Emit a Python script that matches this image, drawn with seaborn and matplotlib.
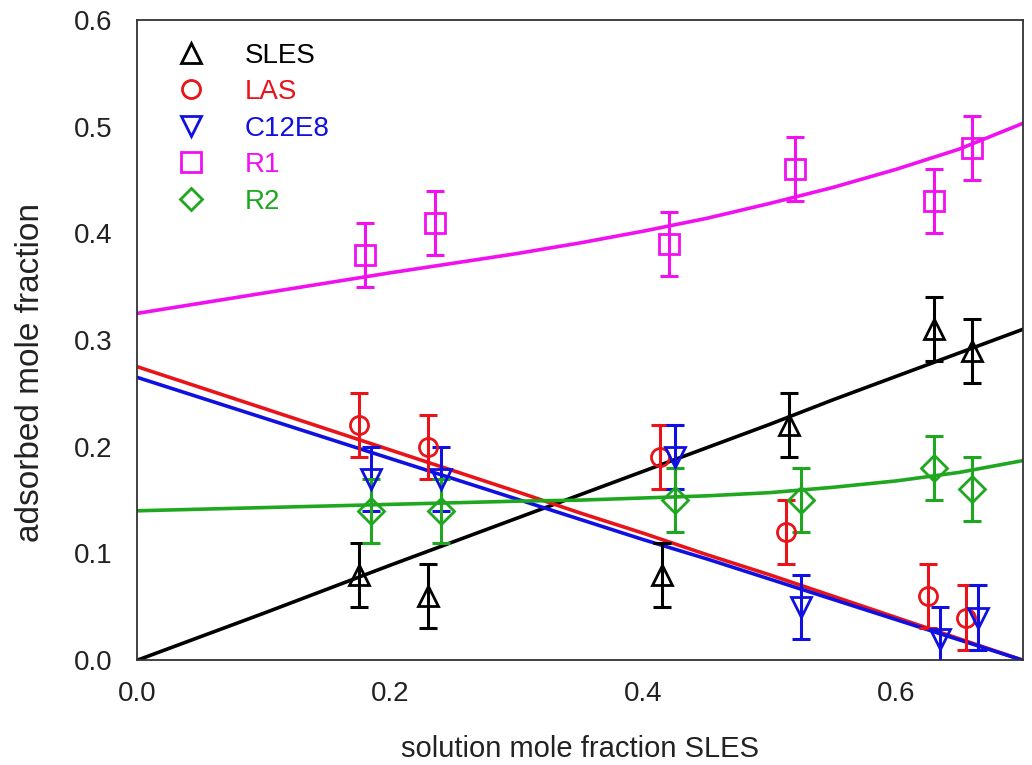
import numpy as np
import pandas as pd
import matplotlib
matplotlib.use("Agg")
import matplotlib.pyplot as plt
import seaborn as sns
from matplotlib.lines import Line2D

# ---------------- data ----------------
series_names = ["SLES", "LAS", "C12E8", "R1", "R2"]
series_colors = ["#000000", "#e8141a", "#1010e0", "#f010f0", "#1fa81f"]
series_markers = ["^", "o", "v", "s", "D"]

sles_x = [0.175, 0.230, 0.415, 0.515, 0.630, 0.660]
sles_y = [0.08, 0.06, 0.08, 0.22, 0.31, 0.29]
las_x = [0.175, 0.230, 0.413, 0.513, 0.625, 0.655]
las_y = [0.22, 0.20, 0.19, 0.12, 0.06, 0.04]
c12_x = [0.185, 0.240, 0.425, 0.525, 0.635, 0.665]
c12_y = [0.17, 0.17, 0.19, 0.05, 0.02, 0.04]
r1_x = [0.180, 0.235, 0.420, 0.520, 0.630, 0.660]
r1_y = [0.38, 0.41, 0.39, 0.46, 0.43, 0.48]
r2_x = [0.185, 0.240, 0.425, 0.525, 0.630, 0.660]
r2_y = [0.14, 0.14, 0.15, 0.15, 0.18, 0.16]
err = 0.03

# fitted model curves, read at sample points
fit_x = [0.0, 0.1, 0.2, 0.3, 0.35, 0.4, 0.45, 0.5, 0.55, 0.6, 0.65, 0.7]
fit_sles = [0.0, 0.044, 0.089, 0.133, 0.155, 0.177, 0.199, 0.221, 0.244, 0.266, 0.288, 0.310]
fit_las = [0.275, 0.236, 0.197, 0.158, 0.138, 0.119, 0.099, 0.080, 0.060, 0.040, 0.020, 0.0]
fit_c12 = [0.265, 0.227, 0.189, 0.151, 0.132, 0.113, 0.095, 0.076, 0.057, 0.038, 0.019, 0.0]
fit_r1 = [0.325, 0.344, 0.363, 0.381, 0.391, 0.402, 0.414, 0.428, 0.443, 0.460, 0.479, 0.503]
fit_r2 = [0.140, 0.143, 0.146, 0.149, 0.150, 0.152, 0.154, 0.157, 0.162, 0.168, 0.176, 0.187]

xs_all = [sles_x, las_x, c12_x, r1_x, r2_x]
ys_all = [sles_y, las_y, c12_y, r1_y, r2_y]
fits_all = [fit_sles, fit_las, fit_c12, fit_r1, fit_r2]

# ---------------- plot ----------------
sns.set_theme(style="white")
plt.rcParams["font.family"] = ["Liberation Sans", "DejaVu Sans"]

fig = plt.figure(figsize=(10.32, 7.65), dpi=100)
ax = fig.add_axes([0.133, 0.137, 0.858, 0.837])

fit_df = pd.concat([
    pd.DataFrame({"x": fit_x, "y": f, "series": n})
    for n, f in zip(series_names, fits_all)
])
palette = dict(zip(series_names, series_colors))

sns.lineplot(data=fit_df, x="x", y="y", hue="series", palette=palette,
             lw=2.6, legend=False, ax=ax, sort=True, zorder=2)

marker_size = {"^": 14, "v": 14, "o": 13, "s": 14, "D": 13}
for n, c, m, xx, yy in zip(series_names, series_colors, series_markers, xs_all, ys_all):
    ax.errorbar(xx, yy, yerr=err, fmt="none", ecolor=c, elinewidth=2.2,
                capsize=6.5, capthick=2.2, zorder=3)
    ax.plot(xx, yy, ls="none", marker=m, ms=marker_size[m], mfc="none", mec=c,
            mew=2, zorder=4)

ax.set_xlim(0, 0.7)
ax.set_ylim(0, 0.6)
ax.set_xticks([0.0, 0.2, 0.4, 0.6])
ax.set_xticklabels(["0.0", "0.2", "0.4", "0.6"])
ax.set_yticks([0.0, 0.1, 0.2, 0.3, 0.4, 0.5, 0.6])
ax.set_yticklabels(["0.0", "0.1", "0.2", "0.3", "0.4", "0.5", "0.6"])
ax.tick_params(axis="x", direction="in", length=8, width=1.2, labelsize=20,
               pad=15, colors="#222222")
ax.tick_params(axis="y", direction="out", length=6, width=1.2, labelsize=20,
               pad=12, colors="#222222")
for sp in ax.spines.values():
    sp.set_color("#333333")
    sp.set_linewidth(1.3)

ax.set_xlabel("solution mole fraction SLES", fontsize=21, color="#222222",
              labelpad=20)
ax.set_ylabel("adsorbed mole fraction", fontsize=24, color="#222222")
ax.yaxis.set_label_coords(-0.103, 0.45)

handles = [Line2D([], [], ls="none", marker=m, ms=marker_size[m] - (2 if m == "D" else 0),
                  mfc="none", mec=c, mew=2)
           for m, c in zip(series_markers, series_colors)]
leg = ax.legend(handles, series_names, loc="upper left", frameon=False,
                fontsize=20, bbox_to_anchor=(0.015, 0.995), handletextpad=1.2,
                labelspacing=0.38, handlelength=1.5, borderaxespad=0.3)
for t, c in zip(leg.get_texts(), series_colors):
    t.set_color(c)

fig.savefig("out.png", dpi=100)
